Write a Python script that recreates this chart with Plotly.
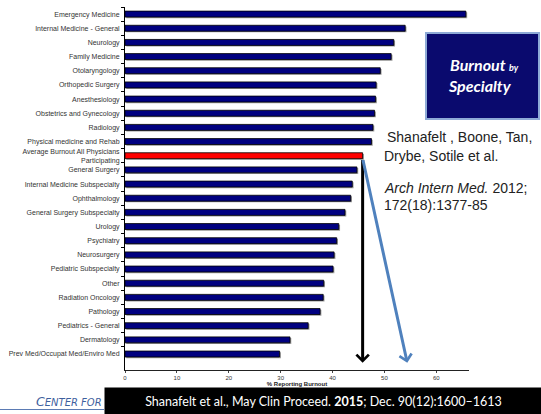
import plotly.graph_objects as go

specialties = [
    "Emergency Medicine", "Internal Medicine - General", "Neurology", "Family Medicine",
    "Otolaryngology", "Orthopedic Surgery", "Anesthesiology", "Obstetrics and Gynecology",
    "Radiology", "Physical medicine and Rehab",
    "Average Burnout All Physicians<br>Participating",
    "General Surgery", "Internal Medicine Subspecialty", "Ophthalmology",
    "General Surgery Subspecialty", "Urology", "Psychiatry", "Neurosurgery",
    "Pediatric Subspecialty", "Other", "Radiation Oncology", "Pathology",
    "Pediatrics - General", "Dermatology", "Prev Med/Occupat Med/Enviro Med",
]
burnout_pct = [
    65.7, 54.0, 51.8, 51.3, 49.2, 48.4, 48.3, 48.1, 47.8, 47.5,
    45.8, 44.7, 43.8, 43.5, 42.4, 41.2, 40.8, 40.3, 40.1, 38.3,
    38.2, 37.6, 35.3, 31.8, 29.8,
]
avg_label = "Average Burnout All Physicians<br>Participating"
avg_2011 = 45.8
avg_2014 = 54.4
x_ticks = [0, 10, 20, 30, 40, 50, 60]

W, H = 541, 414
ML, MR, MT, MB = 125, 72, 7, 44
PW, PH = W - ML - MR, H - MT - MB


def px(xp):
    return (xp - ML) / PW


def py(yp):
    return (H - MB - yp) / PH


colors = ["#FF0000" if s == avg_label else "#000080" for s in specialties]
avg_idx = specialties.index(avg_label)

fig = go.Figure()
# shadow
fig.add_trace(go.Bar(
    y=specialties, x=burnout_pct, base=0.25, orientation="h",
    width=0.42, offset=-0.13, marker=dict(color="#9a9a9a", line=dict(width=0)),
    hoverinfo="skip", showlegend=False))
fig.add_trace(go.Bar(
    y=specialties, x=burnout_pct, orientation="h",
    width=0.42, offset=-0.21,
    marker=dict(color=colors, line=dict(color="#000000", width=0.8)),
    showlegend=False))

fig.update_layout(
    width=W, height=H, margin=dict(l=ML, r=MR, t=MT, b=MB),
    plot_bgcolor="white", paper_bgcolor="white", barmode="overlay",
    font=dict(family="Liberation Sans, Arial", color="#222"),
)
fig.update_yaxes(
    autorange="reversed", showline=True, linecolor="#000", linewidth=1,
    ticks="outside", ticklen=3, tickcolor="#000", tickson="boundaries",
    ticklabelstandoff=3,
    tickfont=dict(size=7, color="#333"), showgrid=False,
)
fig.update_xaxes(
    range=[0, 66.3], tickvals=x_ticks, showline=True, linecolor="#222", linewidth=1,
    ticks="outside", ticklen=2, tickcolor="#444", showgrid=False, zeroline=False,
    tickfont=dict(size=6, color="#333"),
    title=dict(text="<b>% Reporting Burnout</b>", font=dict(size=6, color="#222"), standoff=0),
)

# arrows
fig.add_annotation(x=avg_2011, y=24.62, xref="x", yref="y", ax=avg_2011, ay=avg_idx + 0.2,
                   axref="x", ayref="y", showarrow=True, arrowhead=4, arrowsize=0.8,
                   arrowwidth=3, arrowcolor="#000000", text="")
fig.add_annotation(x=avg_2014, y=24.62, xref="x", yref="y", ax=avg_2011, ay=avg_idx + 0.2,
                   axref="x", ayref="y", showarrow=True, arrowhead=4, arrowsize=0.8,
                   arrowwidth=3, arrowcolor="#4F81BD", text="")

# title box
fig.add_shape(type="rect", xref="paper", yref="paper",
              x0=px(426), x1=px(539), y0=py(119), y1=py(33),
              fillcolor="#0a0a6e", line=dict(color="#8eaad6", width=2))
fig.add_annotation(xref="paper", yref="paper", x=px(484), y=py(64), showarrow=False,
                   xanchor="center", yanchor="middle",
                   text="<b><i>Burnout <span style='font-size:9px'>by</span></i></b>",
                   font=dict(family="Lato", size=16, color="white"))
fig.add_annotation(xref="paper", yref="paper", x=px(480), y=py(86), showarrow=False,
                   xanchor="center", yanchor="middle",
                   text="<b><i>Specialty</i></b>",
                   font=dict(family="Lato", size=16, color="white"))

# citation text
cite = [
    (385, 137, "Shanafelt , Boone, Tan,"),
    (382, 156, "Drybe, Sotile et al."),
    (382, 188, "<i>Arch Intern Med.</i> 2012;"),
    (382, 205, "172(18):1377-85"),
]
for xx, yy, t in cite:
    fig.add_annotation(xref="paper", yref="paper", x=px(xx), y=py(yy), showarrow=False,
                       xanchor="left", yanchor="middle", text=t,
                       font=dict(family="Liberation Sans, Arial", size=14, color="#222"))

# footer
fig.add_shape(type="line", xref="paper", yref="paper", x0=px(0), x1=px(104),
              y0=py(409.5), y1=py(409.5), line=dict(color="#5b7bb4", width=1))
fig.add_annotation(xref="paper", yref="paper", x=px(34), y=py(401), showarrow=False,
                   xanchor="left", yanchor="middle",
                   text="<i>C<span style='font-size:10px'>ENTER FOR</span></i>",
                   font=dict(family="DejaVu Sans", size=12.5, color="#3f5f9e"))
fig.add_annotation(xref="paper", yref="paper", x=px(104), y=py(387), showarrow=False,
                   xanchor="left", yanchor="top", width=433, height=23, bgcolor="#000000",
                   borderpad=2, align="center",
                   text="Shanafelt et al., May Clin Proceed. <b>2015</b>; Dec. 90(12):1600\u20131613",
                   font=dict(family="Lato", size=12.5, color="white"))

fig.write_html("out.html")
